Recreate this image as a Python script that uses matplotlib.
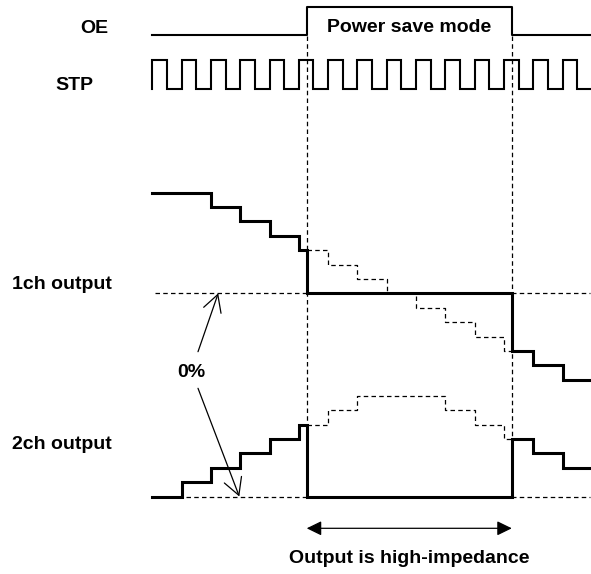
import numpy as np
import matplotlib
matplotlib.use("Agg")
import matplotlib.pyplot as plt

# time axis in STP clock periods (rising edge at every whole period)
stp_levels = [1, 0, 1, 0, 1, 0, 1, 0, 1, 0, 1, 0, 1, 0, 1, 0,
              1, 0, 1, 0, 1, 0, 1, 0, 1, 0, 1, 0, 1, 0]
oe_on, oe_off = 5.27, 12.27

# output level (in steps) during each clock period
ch1_levels = [7, 7, 6, 5, 4, 3, 2, 1, 0, -1, -2, -3, -4, -5, -6]
ch2_levels = [0, 1, 2, 3, 4, 5, 6, 7, 7, 7, 6, 5, 4, 3, 2]

labels = ["OE", "STP", "1ch output", "2ch output"]

# layout (pixels)
W, H = 591, 574
X0, PERIOD = 152.3, 29.3
T_END = (W - 1 - X0) / PERIOD
OE_LOW, OE_HIGH = 34.5, 7.0
STP_LOW, STP_HIGH = 88.5, 59.5
CH1_ZERO, CH2_ZERO, STEP_H = 293.3, 496.5, 14.4

FONT = dict(family="Liberation Sans", weight="bold", size=14)
DASH = (0, (3.6, 2.6))


def steps(levels, t0, t1, width=1.0):
    xs, ys = [], []
    for k, v in enumerate(levels):
        a = max(k * width, t0)
        b = T_END if k == len(levels) - 1 else (k + 1) * width
        b = min(b, t1)
        if a < b:
            xs += [a, b]
            ys += [v, v]
    return xs, ys


fig = plt.figure(figsize=(W / 100, H / 100), dpi=100)
ax = fig.add_axes([0, 0, 1, 1])
ax.set_xlim(-X0 / PERIOD, (W - X0) / PERIOD)
ax.set_ylim(H, 0)
ax.axis("off")

# OE
ox = [0, oe_on, oe_on, oe_off, oe_off, T_END]
oy = np.array([0, 0, 1, 1, 0, 0])
ax.plot(ox, OE_LOW - oy * (OE_LOW - OE_HIGH), color="black", lw=1.5)

# STP clock
sx, sy = steps(stp_levels, 0, T_END, width=0.5)
sx, sy = [0] + sx, [0] + sy
ax.plot(sx, STP_LOW - np.array(sy) * (STP_LOW - STP_HIGH), color="black", lw=1.5,
        solid_joinstyle="miter")

# marker lines
ax.vlines([oe_on, oe_off], 36, 497, colors="black", lw=0.9, linestyles=[DASH])
ax.hlines([CH1_ZERO, CH2_ZERO], 0.1, T_END, colors="black", lw=0.9, linestyles=[DASH])

# outputs: real (solid) and what it would be without power save (dashed)
for levels, zero in [(ch1_levels, CH1_ZERO), (ch2_levels, CH2_ZERO)]:
    ax_, ay_ = steps(levels, 0, oe_on)
    bx_, by_ = steps(levels, oe_off, T_END)
    xs = ax_ + [oe_on, oe_off] + bx_
    ys = np.array(ay_ + [0, 0] + by_)
    ax.plot(xs, zero - ys * STEP_H, color="black", lw=2.2, zorder=3,
            solid_joinstyle="miter")
    dx, dy = steps(levels, oe_on, oe_off)
    ax.plot(dx, zero - np.array(dy) * STEP_H, color="black", lw=0.9,
            linestyle=DASH, zorder=2)

# 0% pointers
arrow = dict(arrowstyle="->,head_length=0.6,head_width=0.33", color="black",
             lw=0.9, shrinkA=0, shrinkB=0, mutation_scale=20)
ax.annotate("", xy=(2.25, CH1_ZERO), xytext=(1.56, 351.7), arrowprops=arrow)
ax.annotate("", xy=(2.97, CH2_ZERO), xytext=(1.56, 388.3), arrowprops=arrow)
ax.text(1.33, 376.7, "0%", ha="center", va="baseline", **FONT)

# high-impedance span
ax.annotate("", xy=(oe_on, 528.3), xytext=(oe_off, 528.3),
            arrowprops=dict(arrowstyle="<|-|>,head_length=0.45,head_width=0.22",
                            color="black", lw=0.9, shrinkA=0, shrinkB=0,
                            mutation_scale=20))
ax.text((oe_on + oe_off) / 2, 563.3, "Output is high-impedance",
        ha="center", va="baseline", **FONT)
ax.text((oe_on + oe_off) / 2, 32.5, "Power save mode",
        ha="center", va="baseline", **FONT)

# signal names
for name, px, py in zip(labels, [80, 55, 11.7, 11.7], [32.7, 89.5, 289.3, 449.3]):
    fig.text(px / W, 1 - py / H, name, ha="left", va="baseline", **FONT)

fig.savefig("out.png", dpi=100, facecolor="white")
